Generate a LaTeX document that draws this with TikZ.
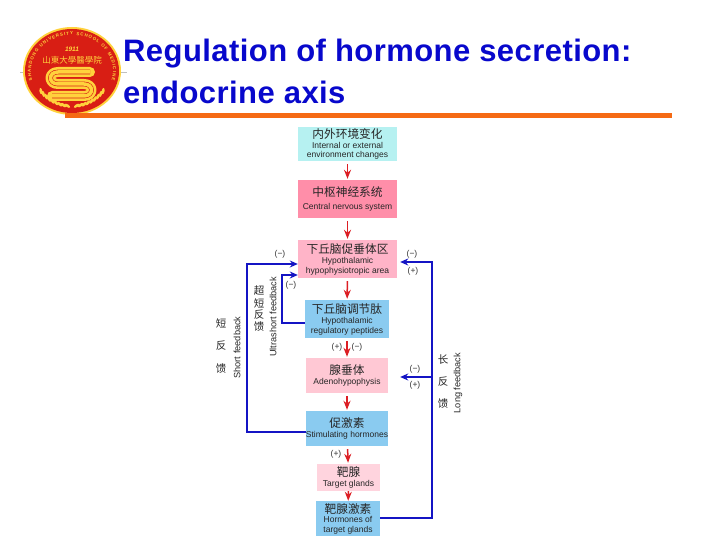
\documentclass[tikz,border=0pt]{standalone}
\usepackage{fontspec}
\setmainfont{Liberation Sans}
\newfontfamily\cjk{Noto Sans CJK SC}
\newfontfamily\titlefont[LetterSpace=1.4]{Liberation Sans}
\usetikzlibrary{arrows.meta,decorations.text}

\definecolor{titleblue}{HTML}{0808CC}
\definecolor{ruleorange}{HTML}{F56A14}
\definecolor{envcyan}{HTML}{B6F1F1}
\definecolor{cnspink}{HTML}{FF8EA9}
\definecolor{areapink}{HTML}{FFB4C8}
\definecolor{peptideblue}{HTML}{8ACBF0}
\definecolor{palepink}{HTML}{FFC8D4}
\definecolor{targetpink}{HTML}{FFD4DE}
\definecolor{linkred}{HTML}{DC1E24}
\definecolor{linkblue}{HTML}{1414C4}
\definecolor{logored}{HTML}{D81E14}
\definecolor{logogold}{HTML}{FFD23C}

\newcommand{\cnline}[1]{{\cjk\fontsize{11.7}{13}\selectfont #1}}
\newcommand{\enfont}{\fontsize{8.5}{9.5}\selectfont}

\tikzset{
    stagebox/.style={inner sep=0pt, align=center, font=\enfont, text=black!85},
    redlink/.style={draw=linkred, line width=1.5pt, shorten <=3pt, shorten >=1pt,
        -{Stealth[length=9pt,width=7pt]}},
    bluelink/.style={draw=linkblue, line width=1.5pt, -{Stealth[length=8pt,width=7pt]}},
    bluefat/.style={bluelink, line width=2pt},
    signmark/.style={inner sep=0pt, font=\fontsize{8.5}{9}\selectfont, text=black!80},
    sidecn/.style={inner sep=0pt, font=\cjk\fontsize{10.5}{11}\selectfont, text=black!85},
    sideen/.style={inner sep=0pt, rotate=90, font=\fontsize{9.2}{10}\selectfont, text=black!85},
    titleline/.style={anchor=base west, inner sep=0pt, text=titleblue,
        font=\titlefont\fontsize{31}{32}\selectfont\bfseries},
}

\begin{document}
\begin{tikzpicture}[x=1pt, y=1pt]
    \useasboundingbox (0, 0) rectangle (720, 540);

    % logo
    \draw[black!25, line width=0.5pt] (20, 468) -- (127, 468);
    \fill[logogold] (72, 469) ellipse [x radius=49, y radius=44];
    \fill[logored] (72, 469) ellipse [x radius=47, y radius=42];
    \path[decorate, decoration={text along path, text align={fit to path},
        text={|\fontsize{4.4}{5}\selectfont\bfseries\color{logogold}|SHANDONG UNIVERSITY SCHOOL OF MEDICINE}}]
        (72, 469) ++(195:41 and 36) arc [start angle=195, end angle=-15, x radius=41, y radius=36];
    \node[inner sep=0pt, text=logogold, font=\fontsize{6.5}{7}\selectfont\bfseries\itshape] (logoyear) at (72, 491) {1911};
    \node[inner sep=0pt, text=logogold, font=\cjk\fontsize{8.5}{9}\selectfont] (logoname) at (72, 480) {山東大學醫學院};
    \draw[logogold, line width=10pt, line cap=round, line join=round] (90, 468) -- (58, 468)
        .. controls (48, 468) and (48, 456) .. (58, 456) -- (84, 456)
        .. controls (94, 456) and (94, 444) .. (84, 444) -- (52, 444);
    \draw[logored, line width=0.6pt, double=logogold, double distance=3.5pt] (90, 468) -- (58, 468)
        .. controls (48, 468) and (48, 456) .. (58, 456) -- (84, 456)
        .. controls (94, 456) and (94, 444) .. (84, 444) -- (52, 444);
    \foreach \grain in {215, 221, ..., 263} {
        \fill[logogold, shift={(72, 469)}, shift={(\grain:38 and 35)}, rotate=\grain+65] (0, 0) ellipse [x radius=3.2, y radius=1.4];
        \fill[logogold, shift={(72, 469)}, shift={(540-\grain:38 and 35)}, rotate=540-\grain-65] (0, 0) ellipse [x radius=3.2, y radius=1.4];
    }

    % title
    \node[titleline] (titleone) at (123, 478) {Regulation of hormone secretion:};
    \node[titleline] (titletwo) at (123, 436) {endocrine axis};
    \fill[ruleorange] (65, 421.5) rectangle (672, 426.5);

    % stages
    \node[stagebox, fill=envcyan, minimum width=99pt, minimum height=34pt] (env) at (347.5, 396)
        {\cnline{内外环境变化}\\Internal or external\\environment changes};
    \node[stagebox, fill=cnspink, minimum width=99pt, minimum height=38pt] (cns) at (347.5, 341)
        {\cnline{中枢神经系统}\\[3pt]Central nervous system};
    \node[stagebox, fill=areapink, minimum width=99pt, minimum height=38pt] (area) at (347.5, 281)
        {\cnline{下丘脑促垂体区}\\[1pt]Hypothalamic\\hypophysiotropic area};
    \node[stagebox, fill=peptideblue, minimum width=84pt, minimum height=38pt] (peptide) at (347, 221)
        {\cnline{下丘脑调节肽}\\[1pt]Hypothalamic\\regulatory peptides};
    \node[stagebox, fill=palepink, minimum width=82pt, minimum height=35pt] (adeno) at (347, 164.5)
        {\cnline{腺垂体}\\[1pt]Adenohypophysis};
    \node[stagebox, fill=peptideblue, minimum width=82pt, minimum height=35pt] (stim) at (347, 111.5)
        {\cnline{促激素}\\[1pt]Stimulating hormones};
    \node[stagebox, fill=targetpink, minimum width=63pt, minimum height=27pt] (target) at (348.5, 62.5)
        {\cnline{靶腺}\\[1pt]Target glands};
    \node[stagebox, fill=peptideblue, minimum width=64pt, minimum height=35pt] (gland) at (348, 21.5)
        {\cnline{靶腺激素}\\Hormones of\\target glands};

    % red arrows
    \draw[redlink] (env) -- (cns);
    \draw[redlink] (cns) -- (area);
    \draw[redlink] (area) -- (peptide);
    \draw[redlink] (peptide) -- (adeno);
    \draw[redlink] (adeno) -- (stim);
    \draw[redlink] (stim) -- (target);
    \draw[redlink, shorten <=0pt, shorten >=0pt] (target) -- (gland);

    % feedback lines
    \coordinate (shorttop) at (247, 276);
    \coordinate (ultratop) at (282, 265);
    \coordinate (longtop) at (432, 278);
    \coordinate (longbranch) at (432, 163);
    \draw[bluelink] ([yshift=-3.5pt]stim.west) -| (shorttop) -- ([yshift=-5pt]area.west);
    \draw[bluelink] ([yshift=-4pt]peptide.west) -| (ultratop) -- ([yshift=-16pt]area.west);
    \draw[bluefat, shorten >=3pt] (gland.east) -| (longtop) -- ([yshift=-3pt]area.east);
    \draw[bluefat, shorten >=12pt] (longbranch) -- ([yshift=-1.5pt]adeno.east);

    % signs
    \node[signmark] (signa) at (280, 286) {(−)};
    \node[signmark] (signb) at (412, 286) {(−)};
    \node[signmark] (signc) at (413, 269) {(+)};
    \node[signmark] (signd) at (291, 255) {(−)};
    \node[signmark] (signe) at (337, 193) {(+)};
    \node[signmark] (signf) at (357, 193) {(−)};
    \node[signmark] (signg) at (415, 171) {(−)};
    \node[signmark] (signh) at (415, 155) {(+)};
    \node[signmark] (signi) at (336, 86) {(+)};

    % side labels
    \node[sidecn] (shortone) at (221, 217) {短};
    \node[sidecn] (shorttwo) at (221, 194) {反};
    \node[sidecn] (shortthree) at (221, 171) {馈};
    \node[sideen] (shorten) at (237, 192.5) {Short feedback};
    \node[sidecn] (ultraone) at (259, 249) {超};
    \node[sidecn] (ultratwo) at (259, 237) {短};
    \node[sidecn] (ultrathree) at (259, 225) {反};
    \node[sidecn] (ultrafour) at (259, 213) {馈};
    \node[sideen] (ultraen) at (273, 223) {Ultrashort feedback};
    \node[sidecn] (longone) at (443, 180) {长};
    \node[sidecn] (longtwo) at (443, 158) {反};
    \node[sidecn] (longthree) at (443, 136) {馈};
    \node[sideen] (longen) at (458, 157) {Long feedback};
\end{tikzpicture}
\end{document}
